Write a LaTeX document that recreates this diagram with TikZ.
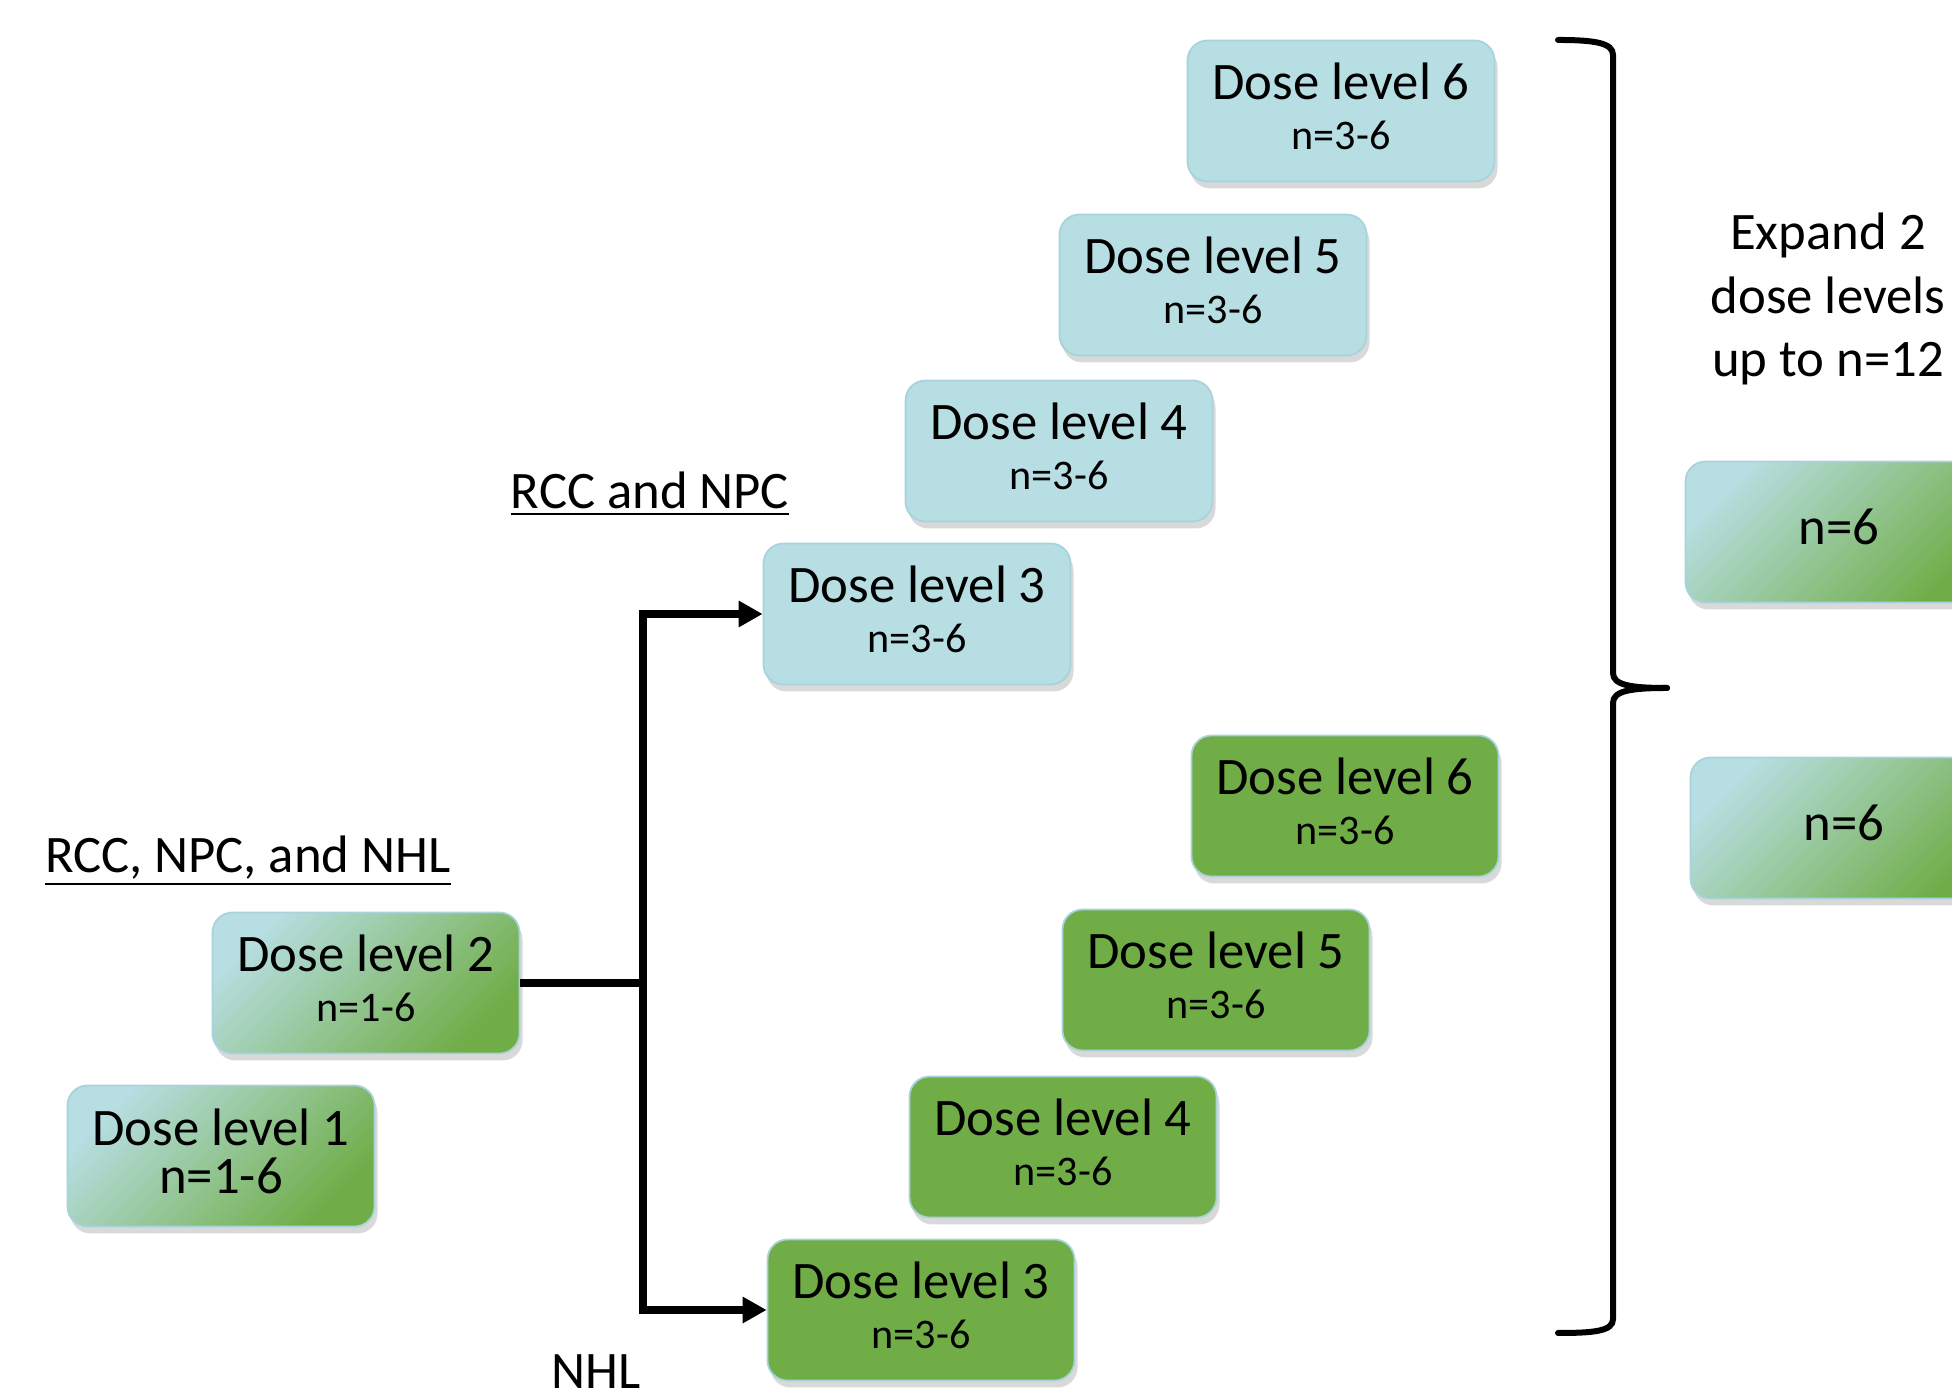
\documentclass[tikz,border=0pt]{standalone}
\usepackage{fontspec}
\setmainfont{Carlito}
\usepackage{tikz}
\usetikzlibrary{positioning,arrows.meta,shadows}
\definecolor{rccblue}{RGB}{183,222,226}
\definecolor{nhlgreen}{RGB}{112,173,71}
\definecolor{boxedge}{RGB}{168,210,220}
\newcommand{\ncount}[1]{{\fontsize{12}{14.3}\selectfont #1}}
\tikzset{
  flowline/.style={line width=0.8mm},
  flowarrow/.style={-{Triangle[length=2.4mm, width=2.5mm]}, line width=0.8mm},
  dosebox/.style={draw=boxedge, line width=0.5pt, rounded corners=2mm, minimum width=3.07cm, minimum height=1.41cm, align=center, text depth=1mm, font=\fontsize{15}{14.3}\selectfont, drop shadow={shadow xshift=0.3mm, shadow yshift=-0.7mm, opacity=0.3}},
  solidbox/.style={dosebox, fill=rccblue},
  nhlbox/.style={dosebox, fill=nhlgreen},
  mixbox/.style={dosebox, top color=rccblue, bottom color=nhlgreen, shading angle=45},
  grouplabel/.style={font=\fontsize{15}{18}\selectfont, align=center},
  bracket/.style={line width=0.6mm, line cap=round}
}

\begin{document}
\begin{tikzpicture}
  \useasboundingbox (0,0) rectangle (19.52,13.95);
  \clip (0,0) rectangle (19.52,13.95);
  % RCC and NPC arm
  \node[solidbox] (b3) at (9.17,7.81) {Dose level 3\\\ncount{n=3-6}};
  \node[solidbox] (b4) at (10.59,9.44) {Dose level 4\\\ncount{n=3-6}};
  \node[solidbox] (b5) at (12.13,11.10) {Dose level 5\\\ncount{n=3-6}};
  \node[solidbox] (b6) at (13.41,12.84) {Dose level 6\\\ncount{n=3-6}};
  % NHL arm
  \node[nhlbox] (g3) at (9.21,0.85) {Dose level 3\\\ncount{n=3-6}};
  \node[nhlbox] (g4) at (10.63,2.48) {Dose level 4\\\ncount{n=3-6}};
  \node[nhlbox] (g5) at (12.16,4.15) {Dose level 5\\\ncount{n=3-6}};
  \node[nhlbox] (g6) at (13.45,5.89) {Dose level 6\\\ncount{n=3-6}};
  % all tumour types
  \node[mixbox] (d2) at (3.66,4.12) {Dose level 2\\\ncount{n=1-6}};
  \node[mixbox, font=\fontsize{15}{13.5}\selectfont] (d1) at (2.21,2.39) {Dose level 1\\n=1-6};
  % expansion cohorts
  \node[mixbox] (x1) at (18.39,8.63) {n=6};
  \node[mixbox] (x2) at (18.44,5.67) {n=6};
  \node[grouplabel] (exp) at (18.28,10.96) {Expand 2\\dose levels\\up to n=12};
  \node[grouplabel] (rn) at (6.50,9.01) {\underline{RCC and NPC}};
  \node[grouplabel] (all) at (2.48,5.34) {\underline{RCC, NPC, and NHL}};
  \node[grouplabel, inner sep=0pt] (nhl) at (5.96,0.23) {NHL};
  % split into the two arms
  \coordinate (split) at (6.43,4.12);
  \draw[flowline] (d2.east) -- (split);
  \draw[flowarrow] (split) |- (b3.west);
  \draw[flowarrow] (split) |- (g3.west);
  % brace
  \draw[bracket] (15.58,13.55) .. controls (15.95,13.55) and (16.13,13.52) .. (16.13,13.40)
    -- (16.13,7.22) .. controls (16.13,7.10) and (16.30,7.07) .. (16.67,7.07);
  \draw[bracket] (16.67,7.07) .. controls (16.30,7.07) and (16.13,7.04) .. (16.13,6.92)
    -- (16.13,0.76) .. controls (16.13,0.64) and (15.95,0.62) .. (15.58,0.62);
\end{tikzpicture}
\end{document}
